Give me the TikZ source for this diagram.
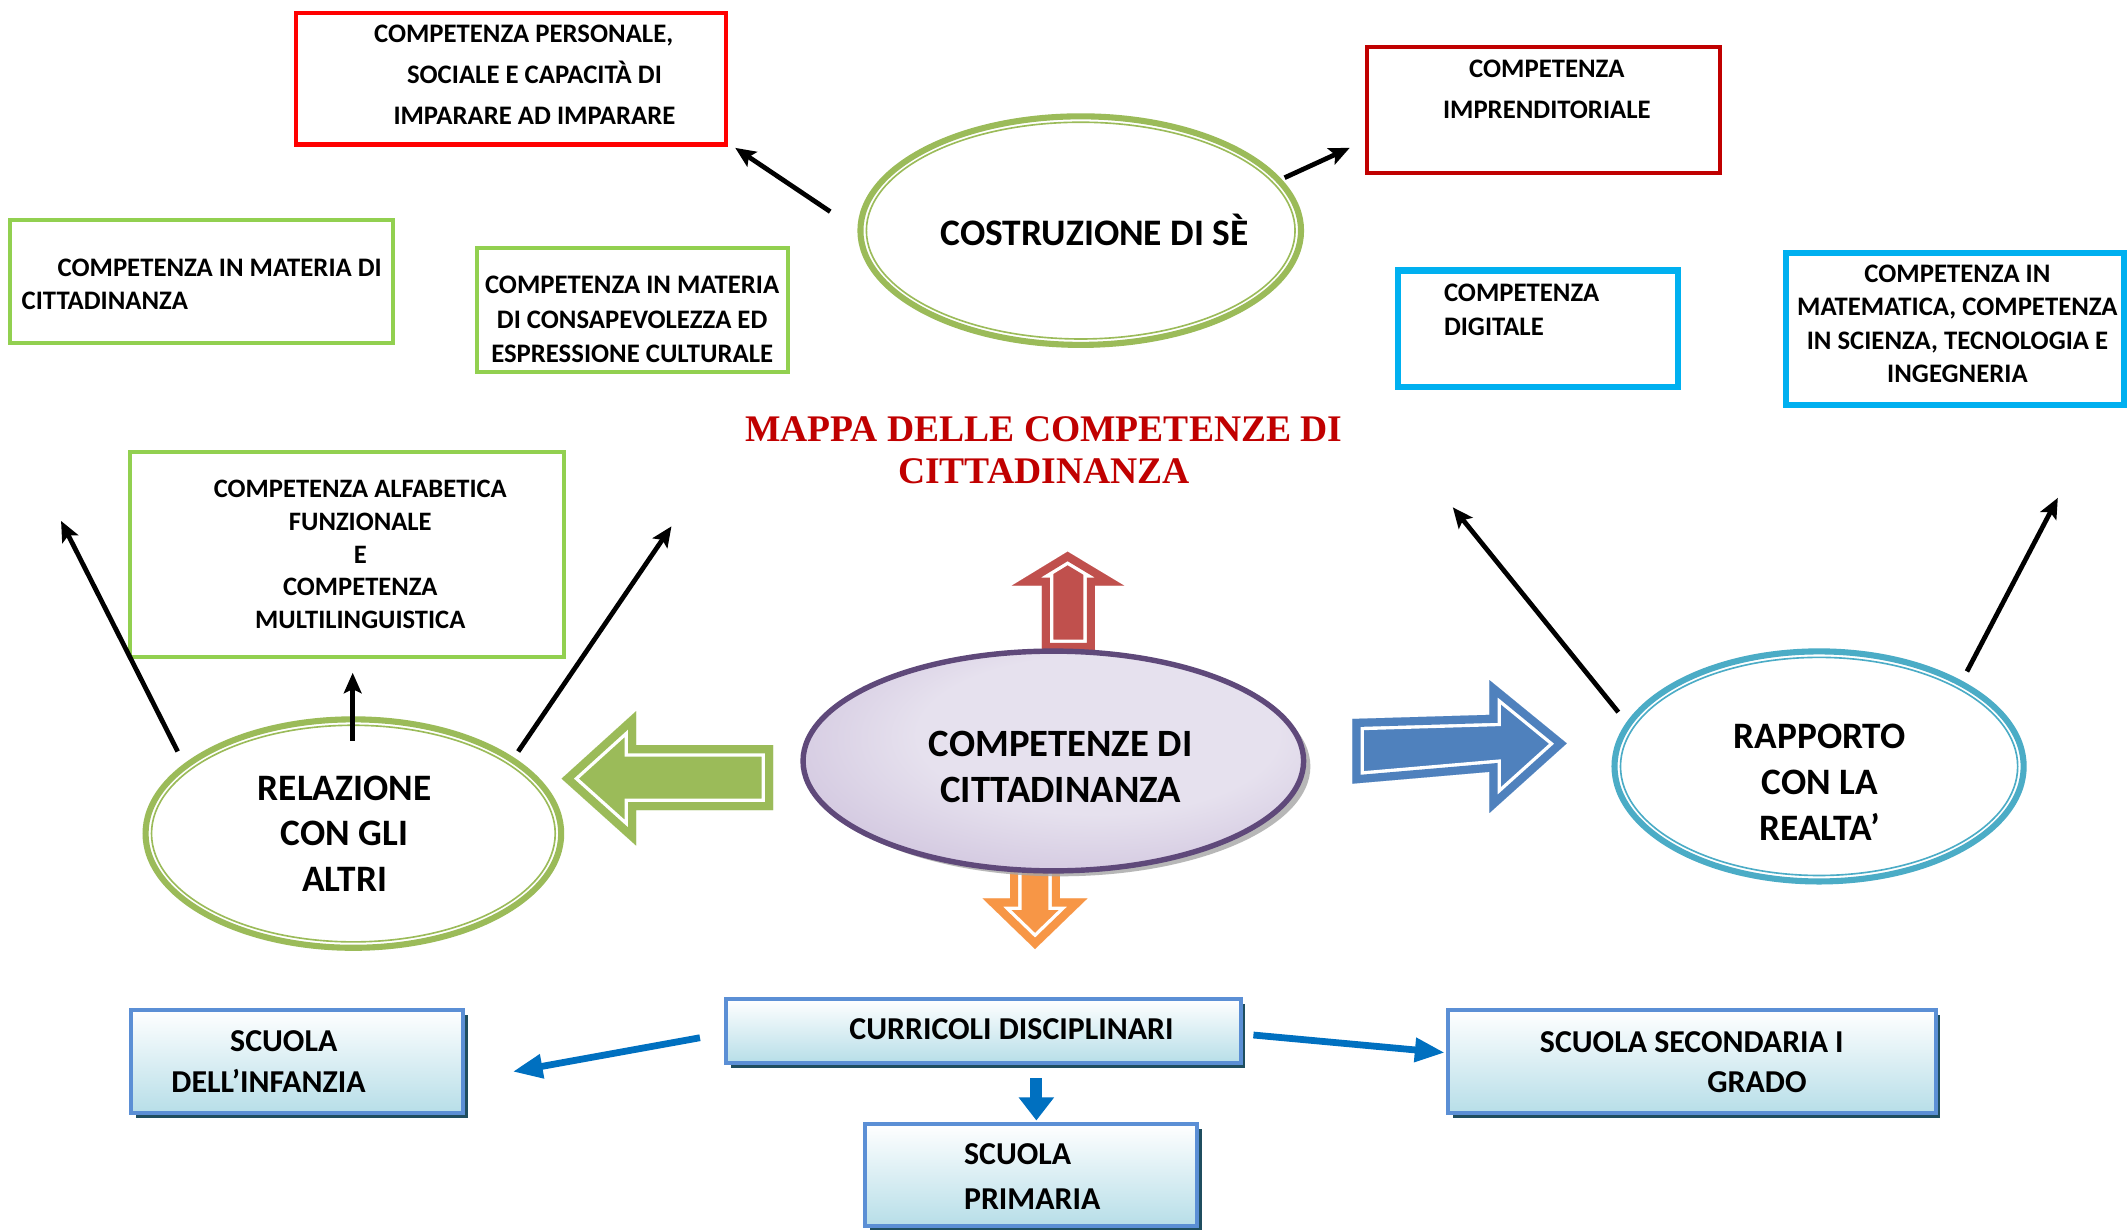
\documentclass[tikz,border=0pt]{standalone}
\usepackage{fontspec}
\setmainfont{Carlito}
\newfontfamily\titlefont{Liberation Serif}
\usetikzlibrary{arrows.meta,shapes.geometric,shadows}
\definecolor{cRed}{HTML}{FF0000}
\definecolor{cDarkRed}{HTML}{C00000}
\definecolor{cLGreen}{HTML}{92D050}
\definecolor{cOlive}{HTML}{9BBB59}
\definecolor{cCyan}{HTML}{00B0F0}
\definecolor{cTeal}{HTML}{4BACC6}
\definecolor{cPurple}{HTML}{5F497A}
\definecolor{cPurpleL}{HTML}{E6E1EE}
\definecolor{cPurpleD}{HTML}{B6A3CB}
\definecolor{cArrRed}{HTML}{C0504D}
\definecolor{cArrBlue}{HTML}{4F81BD}
\definecolor{cArrOrange}{HTML}{F79646}
\definecolor{cBoxBorder}{HTML}{5B8FD5}
\definecolor{cBoxFill}{HTML}{B7DEE8}
\definecolor{cBoxShadow}{HTML}{1F4E5F}
\definecolor{cLink}{HTML}{0070C0}
\definecolor{cTitle}{HTML}{C00000}
\pgfdeclareradialshading{purpshade}{\pgfpoint{6bp}{8bp}}{color(0bp)=(cPurpleL); color(18bp)=(cPurpleL); color(52bp)=(cPurpleD); color(70bp)=(cPurpleD)}
\newcommand{\fz}[2]{\fontsize{#1pt}{#2pt}\selectfont\bfseries}
\newcommand{\blockarrow}[2]{%
  \begin{scope}
    \fill[#1] #2 -- cycle;
    \clip #2 -- cycle;
    \draw[white, line width=17pt, line join=miter] #2 -- cycle;
    \draw[#1, line width=12pt, line join=miter] #2 -- cycle;
  \end{scope}}
\tikzset{
  every node/.style={inner sep=0pt, outer sep=0pt},
  frame/.style={rectangle, draw, line width=3pt},
  txt/.style={align=center},
  ring/.style={ellipse, draw, line width=4.5pt},
  schoolbox/.style={rectangle, draw=cBoxBorder, line width=3pt, top color=white, bottom color=cBoxFill,
    drop shadow={shadow xshift=3.5pt, shadow yshift=-3.5pt, fill=cBoxShadow, opacity=1}},
  blackarrow/.style={draw=black, line width=3.5pt, -{Stealth[length=15pt, width=13pt, inset=3pt]}},
  linkarrow/.style={draw=cLink, line width=5pt, -{Triangle[length=22pt, width=17pt]}},
}
\begin{document}
\begin{tikzpicture}[x=1pt, y=-1pt]
\fill[white] (0,0) rectangle (1568,906.7);
\useasboundingbox (0,0) rectangle (1568,906.7);

% ---- block arrows (behind the central ellipse)
\blockarrow{cArrRed}{(768,480) -- (768,431.8) -- (745.8,431.8) -- (787,406.7) -- (828.8,431.8) -- (807.2,431.8) -- (807.2,480)}
\blockarrow{cOlive}{(570,549.3) -- (469,549.3) -- (469,524.2) -- (414,574) -- (469,623.4) -- (469,597.3) -- (570,597.3)}
\blockarrow{cArrBlue}{(997,530) -- (1098,527) -- (1098,501.4) -- (1155,548) -- (1098,599.3) -- (1098,569) -- (997,577.7)}
\blockarrow{cArrOrange}{(744.6,630) -- (744.6,662.3) -- (724.4,662.3) -- (763,699.6) -- (801.6,662.3) -- (781.4,662.3) -- (781.4,630)}

% ---- top boxes
\node[frame, draw=cRed, minimum width=317pt, minimum height=97pt] (bPers) at (377,58) {};
\node[txt, font={\fz{19.7}{30.2}}] (tPers) at (394,55.1) {COMPETENZA PERSONALE,\kern16pt\\SOCIALE E CAPACITÀ DI\\IMPARARE AD IMPARARE};

\node[frame, draw=cDarkRed, minimum width=260pt, minimum height=93pt] (bImpr) at (1137.7,81.3) {};
\node[txt, font={\fz{19.7}{30}}] (tImpr) at (1140.3,66) {COMPETENZA\\IMPRENDITORIALE};

\node[frame, draw=cLGreen, minimum width=282pt, minimum height=91pt] (bCitt) at (148.5,207.5) {};
\node[align=left, anchor=west, font={\fz{19.7}{24.5}}] (tCitt) at (16,209.75) {\hspace*{26.5pt}COMPETENZA IN MATERIA DI\\CITTADINANZA};

\node[frame, draw=cLGreen, minimum width=229pt, minimum height=91pt] (bCult) at (466.4,228.5) {};
\node[txt, font={\fz{19.7}{25.5}}] (tCult) at (466,235.7) {COMPETENZA IN MATERIA\\DI CONSAPEVOLEZZA ED\\ESPRESSIONE CULTURALE};

\node[frame, draw=cLGreen, minimum width=320pt, minimum height=151pt] (bAlfa) at (255.7,408.8) {};
\node[txt, font={\fz{19.6}{24.1}}] (tAlfa) at (265.6,408.8) {COMPETENZA ALFABETICA\\FUNZIONALE\\E\\COMPETENZA\\MULTILINGUISTICA};

\node[frame, draw=cCyan, line width=4.5pt, minimum width=206.4pt, minimum height=86pt] (bDigi) at (1134,242.4) {};
\node[align=left, anchor=west, font={\fz{19.7}{25.2}}] (tDigi) at (1064.5,228.4) {COMPETENZA\\DIGITALE};

\node[frame, draw=cCyan, line width=4.5pt, minimum width=249.5pt, minimum height=111.7pt] (bMate) at (1441.3,242.5) {};
\node[txt, font={\fz{19.7}{24.7}}] (tMate) at (1443,238.7) {COMPETENZA IN\\MATEMATICA, COMPETENZA\\IN SCIENZA, TECNOLOGIA E\\INGEGNERIA};

% ---- title
\node[txt, text=cTitle, font={\titlefont\bfseries\fontsize{27.7pt}{30.7pt}\selectfont}] (title) at (769.5,331.9) {MAPPA DELLE COMPETENZE DI\\CITTADINANZA};

% ---- ring ellipses
\node[ring, draw=cOlive, minimum width=324.8pt, minimum height=168.5pt] (eSe) at (796.7,170) {};
\draw[cOlive, line width=1.2pt] (eSe.center) ellipse [x radius=158pt, y radius=79.9pt];
\node[anchor=base, font={\fz{27.6}{30}}] (tSe) at (807,181) {COSTRUZIONE DI SÈ};

\node[ring, draw=cOlive, minimum width=306.4pt, minimum height=168.4pt] (eRel) at (260.5,614.5) {};
\draw[cOlive, line width=1.2pt] (eRel.center) ellipse [x radius=148.8pt, y radius=79.85pt];
\node[txt, font={\fz{27.5}{33.65}}] (tRel) at (254,614.5) {RELAZIONE\\CON GLI\\ALTRI};

\node[ring, draw=cTeal, minimum width=301.6pt, minimum height=169.6pt] (eRap) at (1341,565) {};
\draw[cTeal, line width=1.2pt] (eRap.center) ellipse [x radius=146.4pt, y radius=80.4pt];
\node[txt, font={\fz{27.5}{34}}] (tRap) at (1341.4,576.7) {RAPPORTO\\CON LA\\REALTA’};

% ---- central ellipse
\node[ellipse, draw=cPurple, line width=4pt, shading=purpshade, minimum width=369pt, minimum height=162pt,
  drop shadow={shadow xshift=5pt, shadow yshift=-4pt, fill=black!35, opacity=0.8}] (eCen) at (776.5,561) {};
\node[txt, font={\fz{28.5}{33.5}}] (tCen) at (782,565.25) {COMPETENZE DI\\CITTADINANZA};

% ---- black arrows
\coordinate (k1a) at (612,156);  \coordinate (k1b) at (542,109);
\coordinate (k2a) at (947,131);  \coordinate (k2b) at (995,109);
\coordinate (k3a) at (131,554);  \coordinate (k3b) at (45,384);
\coordinate (k4a) at (260,546);  \coordinate (k4b) at (260,496);
\coordinate (k5a) at (382,554);  \coordinate (k5b) at (495,388);
\coordinate (k6a) at (1193,525); \coordinate (k6b) at (1071,374);
\coordinate (k7a) at (1450,495); \coordinate (k7b) at (1517,367);
\draw[blackarrow] (k1a) -- (k1b);
\draw[blackarrow] (k2a) -- (k2b);
\draw[blackarrow] (k3a) -- (k3b);
\draw[blackarrow] (k4a) -- (k4b);
\draw[blackarrow] (k5a) -- (k5b);
\draw[blackarrow] (k6a) -- (k6b);
\draw[blackarrow] (k7a) -- (k7b);

% ---- bottom boxes
\node[schoolbox, minimum width=245pt, minimum height=76pt] (bInf) at (219,782.5) {};
\node[txt, font={\fz{23.5}{29.7}}] (tInf) at (198,782.55) {\kern22.4pt SCUOLA\\DELL’INFANZIA};

\node[schoolbox, minimum width=379pt, minimum height=47pt] (bCur) at (725,760) {};
\node[font={\fz{23.5}{26}}] (tCur) at (745.7,758.4) {CURRICOLI DISCIPLINARI};

\node[schoolbox, minimum width=245pt, minimum height=75pt] (bPri) at (760,866) {};
\node[align=left, anchor=west, font={\fz{23.5}{33.2}}] (tPri) at (710.7,867.5) {SCUOLA\\PRIMARIA};

\node[schoolbox, minimum width=359.4pt, minimum height=76pt] (bSec) at (1247.2,782.7) {};
\node[txt, font={\fz{23.5}{29.4}}] (tSec) at (1247.2,782.7) {SCUOLA SECONDARIA I\\\kern96pt GRADO};

% ---- blue connectors
\coordinate (l1a) at (516,765);  \coordinate (l1b) at (378,790);
\coordinate (l2a) at (764,795);  \coordinate (l2b) at (764,826);
\coordinate (l3a) at (924,763);  \coordinate (l3b) at (1065,776);
\draw[linkarrow] (l1a) -- (l1b);
\draw[draw=cLink, line width=9pt, -{Triangle[length=17pt, width=25pt]}] (l2a) -- (l2b);
\draw[linkarrow] (l3a) -- (l3b);
\end{tikzpicture}
\end{document}
